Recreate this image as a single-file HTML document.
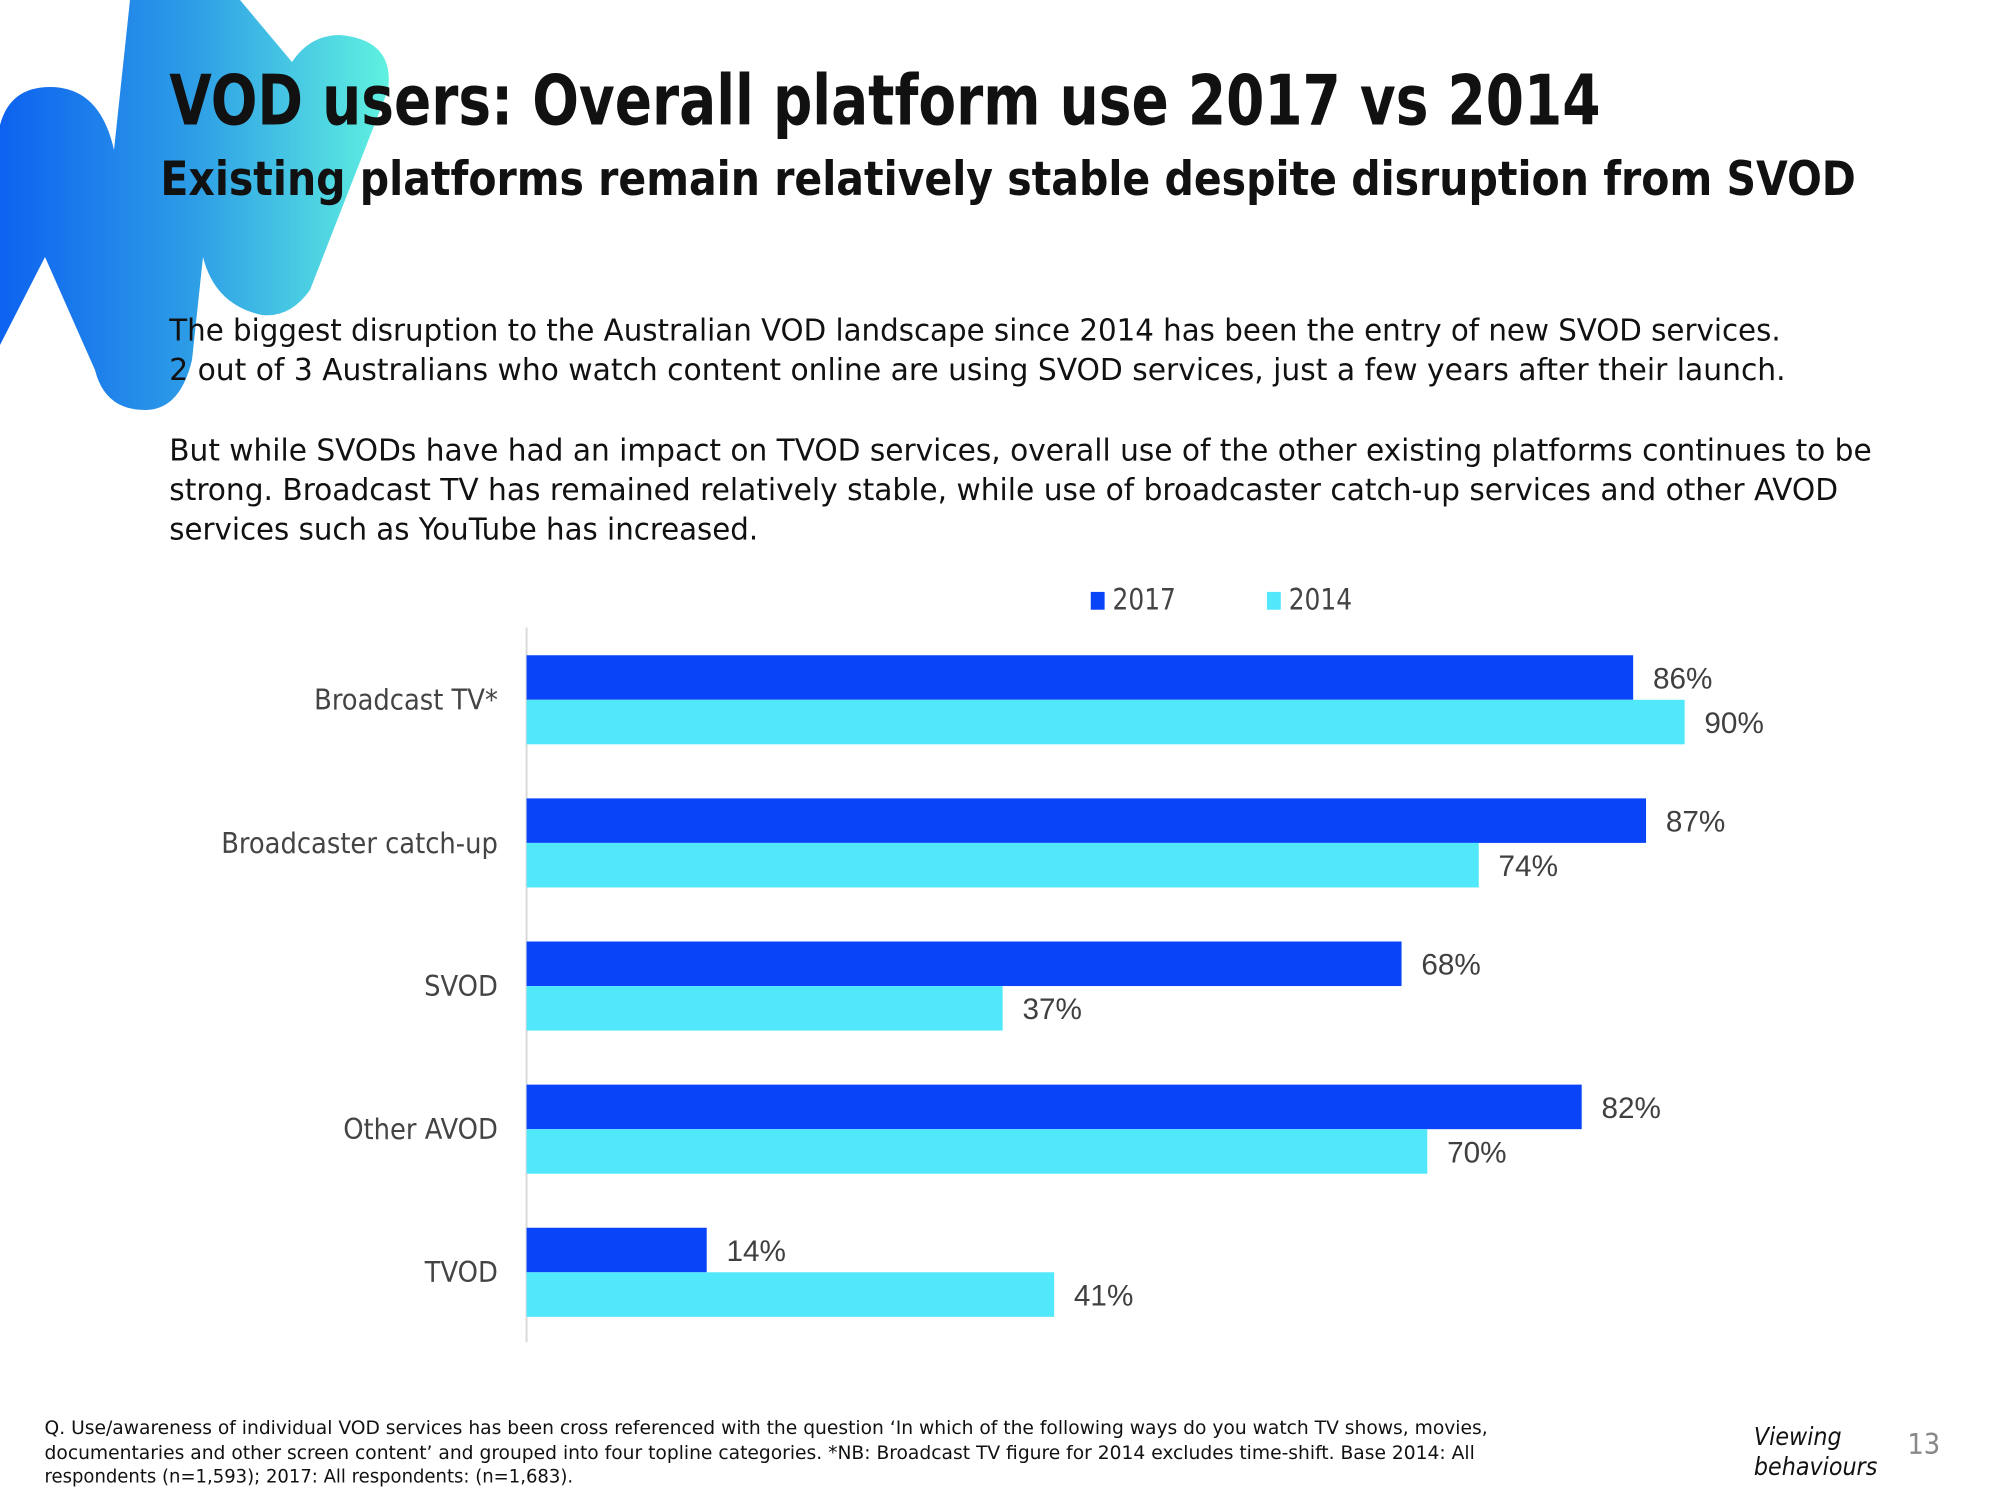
<!DOCTYPE html>
<html><head><meta charset="utf-8"><style>html,body{margin:0;padding:0;background:#fff}svg{display:block}</style></head>
<body>
<svg id="chart" width="2000" height="1500" viewBox="0 0 2000 1500" xmlns="http://www.w3.org/2000/svg" font-family="'DejaVu Sans Condensed','Liberation Sans',sans-serif">
<defs>
<linearGradient id="lg" x1="0" y1="0" x2="390" y2="0" gradientUnits="userSpaceOnUse"><stop offset="0" stop-color="#0d62f0"/><stop offset="0.5" stop-color="#2e9ee6"/><stop offset="1" stop-color="#60f2e0"/></linearGradient>
</defs>
<path fill="url(#lg)" d="M 0 345 L 0 125 Q 10 87 50 87 Q 100 87 114 150 L 130 0 L 240 0 L 292 62 Q 310 35 340 35 Q 395 40 388 90 L 310 290 Q 290 318 262 315 Q 215 305 203 257 L 192 360 Q 180 410 145 410 Q 105 410 95 370 L 45 257 Z"/>
<g transform="scale(0.9898)">
<text x="171" y="126" font-size="70" font-weight="bold" fill="#111" textLength="1446" lengthAdjust="spacingAndGlyphs">VOD users: Overall platform use 2017 vs 2014</text>
<text x="162" y="197" font-size="48" font-weight="bold" fill="#111" textLength="1713" lengthAdjust="spacingAndGlyphs">Existing platforms remain relatively stable despite disruption from SVOD</text>
<g font-size="31" fill="#111">
<text x="171" y="344" textLength="1628" lengthAdjust="spacingAndGlyphs">The biggest disruption to the Australian VOD landscape since 2014 has been the entry of new SVOD services.</text>
<text x="171" y="384" textLength="1633" lengthAdjust="spacingAndGlyphs">2 out of 3 Australians who watch content online are using SVOD services, just a few years after their launch.</text>
<text x="171" y="465" textLength="1720" lengthAdjust="spacingAndGlyphs">But while SVODs have had an impact on TVOD services, overall use of the other existing platforms continues to be</text>
<text x="171" y="505" textLength="1686" lengthAdjust="spacingAndGlyphs">strong. Broadcast TV has remained relatively stable, while use of broadcaster catch-up services and other AVOD</text>
<text x="171" y="545" textLength="595" lengthAdjust="spacingAndGlyphs">services such as YouTube has increased.</text>
</g>
<g font-size="30" fill="#444">
<rect x="1102" y="598" width="14" height="18" fill="#0a44f8"/>
<text x="1124" y="616" textLength="64" lengthAdjust="spacingAndGlyphs">2017</text>
<rect x="1280" y="598" width="14" height="18" fill="#52e8fc"/>
<text x="1302" y="616" textLength="64" lengthAdjust="spacingAndGlyphs">2014</text>
</g>
<line x1="532" y1="634" x2="532" y2="1356" stroke="#d9d9d9" stroke-width="2"/>
<g id="bars"></g>
<g font-size="19" fill="#111">
<text x="45" y="1449" textLength="1458" lengthAdjust="spacingAndGlyphs">Q. Use/awareness of individual VOD services has been cross referenced with the question ‘In which of the following ways do you watch TV shows, movies,</text>
<text x="45" y="1474" textLength="1445" lengthAdjust="spacingAndGlyphs">documentaries and other screen content’ and grouped into four topline categories. *NB: Broadcast TV figure for 2014 excludes time-shift. Base 2014: All</text>
<text x="45" y="1498" textLength="534" lengthAdjust="spacingAndGlyphs">respondents (n=1,593); 2017: All respondents: (n=1,683).</text>
</g>
<g font-size="25" font-style="italic" fill="#111">
<text x="1772" y="1460">Viewing</text>
<text x="1772" y="1490">behaviours</text>
</g>
<text x="1927" y="1469" font-size="29" fill="#888">13</text>
</g>
<script>
const categories = ["Broadcast TV*", "Broadcaster catch-up", "SVOD", "Other AVOD", "TVOD"];
const values2017 = [86, 87, 68, 82, 14];
const values2014 = [90, 74, 37, 70, 41];
const valueLabels2017 = ["86%", "87%", "68%", "82%", "14%"];
const valueLabels2014 = ["90%", "74%", "37%", "70%", "41%"];
(function(){
  const NS = "http://www.w3.org/2000/svg";
  const g = document.getElementById("bars");
  const x0 = 532, pxPerPct = 13.0;
  const xScale = v => x0 + v * pxPerPct;
  const top0 = 662, step = 144.6, barH = 45;
  const yScale = i => top0 + i * step;
  function mk(tag, attrs){ const e = document.createElementNS(NS, tag); for (const k in attrs) e.setAttribute(k, attrs[k]); return e; }
  categories.forEach((c, i) => {
    const y = yScale(i);
    const lab = mk("text", {x: 503, y: y + barH + 10, "font-size": 29, fill: "#444", "text-anchor": "end"});
    
    
    lab.textContent = c; g.appendChild(lab);
    const series = [[values2017, valueLabels2017, "#0a44f8", 0, "bar-2017"], [values2014, valueLabels2014, "#52e8fc", barH, "bar-2014"]];
    series.forEach(s => {
      const v = s[0][i];
      const r = mk("rect", {x: x0, y: y + s[3], width: xScale(v) - x0, height: barH, fill: s[2]});
      
      
      g.appendChild(r);
      const t = mk("text", {x: xScale(v) + 20, y: y + s[3] + barH/2 + 11, "font-size": 30, fill: "#404040", "font-family": "'Liberation Sans',sans-serif"});
      
      
      t.textContent = s[1][i]; g.appendChild(t);
    });
  });
})();
</script>
</svg>
</body></html>
